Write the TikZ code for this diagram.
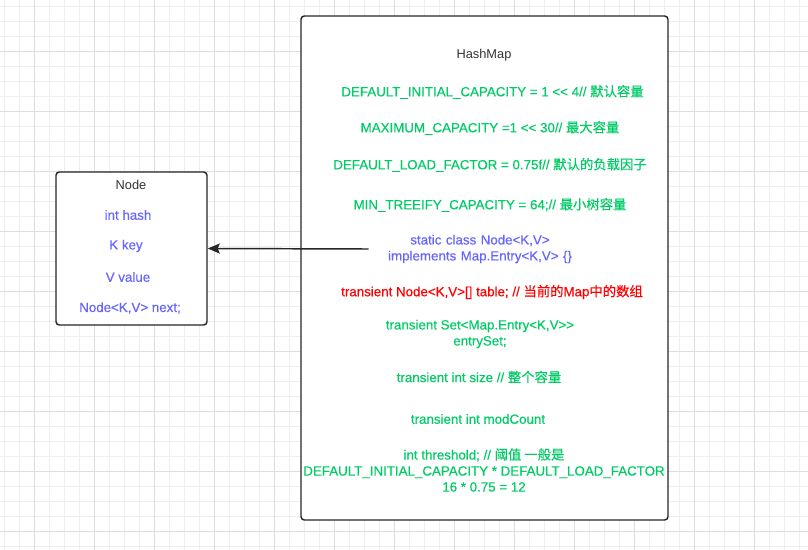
\documentclass[tikz,border=0pt]{standalone}
\usepackage{fontspec}
\setmainfont{Liberation Sans}[Ligatures=TeXOff]
\newfontfamily\fieldfont{Liberation Sans}[Ligatures=TeXOff, FakeBold=0.4]
\newfontfamily\cjk{Noto Sans CJK SC}[FakeBold=0.3]
\usetikzlibrary{arrows.meta}
\newcommand{\zh}[1]{{\cjk #1}}
\definecolor{fieldgreen}{RGB}{0,204,102}
\definecolor{classblue}{RGB}{102,102,255}
\definecolor{tablered}{RGB}{255,0,0}
\definecolor{boxline}{RGB}{38,38,38}
\definecolor{titlegray}{RGB}{51,51,51}
\definecolor{gridminor}{RGB}{238,238,238}
\definecolor{gridmajor}{RGB}{222,222,222}
\tikzset{every picture/.style={line width=0.75pt}}
\tikzset{
  classbox/.style={draw=boxline, line width=1.1pt, fill=white, rounded corners=2.5pt, inner sep=0pt},
  boxtitle/.style={text=titlegray, font=\fontsize{9.6}{12}\selectfont, inner sep=0.75pt},
  greenfield/.style={text=fieldgreen, font=\fontsize{10}{12}\fieldfont, align=center, inner sep=0.75pt},
  bluefield/.style={text=classblue, font=\fontsize{10}{12}\fieldfont, align=center, inner sep=0.75pt},
  redfield/.style={text=tablered, font=\fontsize{10}{12}\fieldfont, align=center, inner sep=0.75pt},
  refarrow/.style={draw=boxline, line width=1.1pt, -{Stealth[length=9pt,width=7.5pt,inset=1.5pt]}}
}

\begin{document}
\begin{tikzpicture}[x=0.75pt,y=0.75pt,yscale=-1,xscale=1]
\useasboundingbox (0,0) rectangle (808,550);

%Grid
\foreach \gx in {4.6,19.6,...,808} \draw [gridminor, line width=0.6pt] (\gx,0) -- (\gx,550);
\foreach \gy in {6.6,21.6,...,550} \draw [gridminor, line width=0.6pt] (0,\gy) -- (808,\gy);
\foreach \gx in {34.6,94.6,...,808} \draw [gridmajor, line width=0.7pt] (\gx,0) -- (\gx,550);
\foreach \gy in {51.6,111.6,...,550} \draw [gridmajor, line width=0.7pt] (0,\gy) -- (808,\gy);

%Shape: Rectangle HashMap
\node [classbox, minimum width=275.25pt, minimum height=378pt] (hashmap) at (484.5,268) {};
%Shape: Rectangle Node
\node [classbox, minimum width=113.25pt, minimum height=114.75pt] (nodebox) at (131.5,248.5) {};

\node [boxtitle] (maptitle) at (484,55) {HashMap};
\node [greenfield] (initcap) at (492.5,92) {DEFAULT\_INITIAL\_CAPACITY = 1 << 4// \zh{默认容量}};
\node [greenfield] (maxcap) at (490,128) {MAXIMUM\_CAPACITY =1 << 30// \zh{最大容量}};
\node [greenfield] (loadfactor) at (490,165) {DEFAULT\_LOAD\_FACTOR = 0.75f// \zh{默认的负载因子}};
\node [greenfield] (treeify) at (490,205) {MIN\_TREEIFY\_CAPACITY = 64;// \zh{最小树容量}};
\node [bluefield, text width=165pt] (nodeclass) at (480,249) {static class Node<K,V>\\implements Map.Entry<K,V> \{\}};
\node [redfield] (table) at (492,292) {transient Node<K,V>[] table; // \zh{当前的}Map\zh{中的数组}};
\node [greenfield] (entryset) at (480,334) {transient Set<Map.Entry<K,V>>\\entrySet;};
\node [greenfield] (size) at (479,377) {transient int size // \zh{整个容量}};
\node [greenfield] (modcount) at (478,419) {transient int modCount};
\node [greenfield] (threshold) at (484,470) {int threshold; // \zh{阈值 一般是}\\DEFAULT\_INITIAL\_CAPACITY * DEFAULT\_LOAD\_FACTOR\\16 * 0.75 = 12};

\node [boxtitle] (nodetitle) at (131,185) {Node};
\node [bluefield] (hash) at (128,215) {int hash};
\node [bluefield] (key) at (126,246) {K key};
\node [bluefield] (value) at (128,277) {V value};
\node [bluefield] (next) at (130,308) {Node<K,V> next;};

\draw [refarrow] (nodeclass.west) -- (nodebox.east);

\end{tikzpicture}
\end{document}
